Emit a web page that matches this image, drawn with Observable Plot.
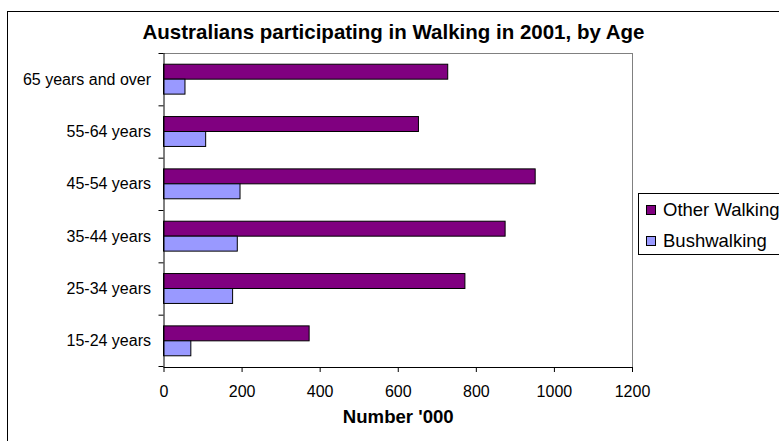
<!DOCTYPE html>
<html>
<head>
<meta charset="utf-8">
<script src="https://cdn.jsdelivr.net/npm/d3@7"></script>
<script src="https://cdn.jsdelivr.net/npm/@observablehq/plot@0.6"></script>
<style>
  html, body { margin: 0; padding: 0; background: #fff; width: 779px; height: 441px; overflow: hidden; }
  body { position: relative; font-family: "Liberation Sans", Arial, sans-serif; color: #000; }
  #chart-frame { position: absolute; left: 7px; top: 11px; width: 2000px; height: 2000px; border: 1px solid #000; box-sizing: border-box; }
  #chart { position: absolute; left: 0; top: 0; }
  #title { position: absolute; left: 0; top: 20px; width: 787px; text-align: center; font-weight: bold; font-size: 20.5px; line-height: 24px; white-space: nowrap; }
  #legend { position: absolute; left: 638px; top: 193px; width: 200px; height: 62px; border: 1px solid #000; background: #fff; box-sizing: border-box; }
  .item { position: absolute; left: 7px; height: 30px; line-height: 30px; display: flex; align-items: center; font-size: 18.5px; white-space: nowrap; }
  .swatch { width: 10px; height: 10px; border: 1px solid #000; box-sizing: border-box; margin-right: 7px; }
</style>
</head>
<body>
<div id="chart-frame"></div>
<div id="chart"></div>
<div id="title">Australians participating in Walking in 2001, by Age</div>
<div id="legend"></div>
<script>
// Participation in walking, thousands of people, by age group (2001)
const ages = ["15-24 years", "25-34 years", "35-44 years", "45-54 years", "55-64 years", "65 years and over"];
const otherWalking = [373, 772, 875, 952, 653, 728];
const bushwalking = [70, 177, 189, 196, 108, 55];
const series = ["Other Walking", "Bushwalking"];
const seriesColors = ["#800080", "#9999ff"];
const xTicks = [0, 200, 400, 600, 800, 1000, 1200];
const xLabel = "Number '000";

const rows = ages.flatMap((age, i) => [
  {age, series: series[0], value: otherWalking[i]},
  {age, series: series[1], value: bushwalking[i]}
]);

const W = 779, H = 441;
const mTop = 53, mBottom = 74, mLeft = 163.5, mRight = 147;
const band = (H - mTop - mBottom) / ages.length;
const barH = band / 3.5;               // two bars plus a 150% gap per group
const gap = (band - 2 * barH) / 2;

const plot = Plot.plot({
  width: W,
  height: H,
  marginTop: mTop,
  marginBottom: mBottom,
  marginLeft: mLeft,
  marginRight: mRight,
  style: {fontFamily: "'Liberation Sans', Arial, sans-serif", fontSize: "16px", color: "#000", background: "transparent", overflow: "visible"},
  x: {domain: [0, 1200], ticks: xTicks, tickFormat: d => String(d), tickSize: 5, tickPadding: 13, label: null},
  y: {domain: ages.slice().reverse(), padding: 0, round: false, tickSize: 0, tickPadding: 13, label: null},
  color: {domain: series, range: seriesColors},
  marks: [
    Plot.frame({anchor: "top", stroke: "#808080"}),
    Plot.frame({anchor: "right", stroke: "#808080"}),
    // grouped bars: first series in the upper half of each band, second in the lower half
    Plot.barX(rows.filter(d => d.series === series[0]), {
      y: "age", x: "value", fill: "series", stroke: "#000", strokeWidth: 1,
      insetTop: gap, insetBottom: band / 2
    }),
    Plot.barX(rows.filter(d => d.series === series[1]), {
      y: "age", x: "value", fill: "series", stroke: "#000", strokeWidth: 1,
      insetTop: band / 2, insetBottom: gap
    }),
    // category axis ticks sit on the band boundaries
    Plot.barX(ages, {y: d => d, x1: 0, x2: 0, insetLeft: -5, insetBottom: band - 1, fill: "#000"}),
    Plot.barX([ages[0]], {y: d => d, x1: 0, x2: 0, insetLeft: -5, insetTop: band - 1, fill: "#000"}),
    Plot.ruleX([0], {stroke: "#000"}),
    Plot.frame({anchor: "bottom", stroke: "#000"}),
    Plot.text([xLabel], {frameAnchor: "bottom", dy: 55.6, text: d => d, fontWeight: "bold", fontSize: 18.6})
  ]
});
document.getElementById("chart").appendChild(plot);

// legend built from the plot's color scale
const color = plot.scale("color");
const legend = document.getElementById("legend");
color.domain.forEach((name, i) => {
  const item = document.createElement("div");
  item.className = "item";
  item.style.top = (1 + i * 30.5) + "px";
  const sw = document.createElement("span");
  sw.className = "swatch";
  sw.style.background = color.range[i];
  const label = document.createElement("span");
  label.textContent = name;
  item.appendChild(sw);
  item.appendChild(label);
  legend.appendChild(item);
});
</script>
</body>
</html>
